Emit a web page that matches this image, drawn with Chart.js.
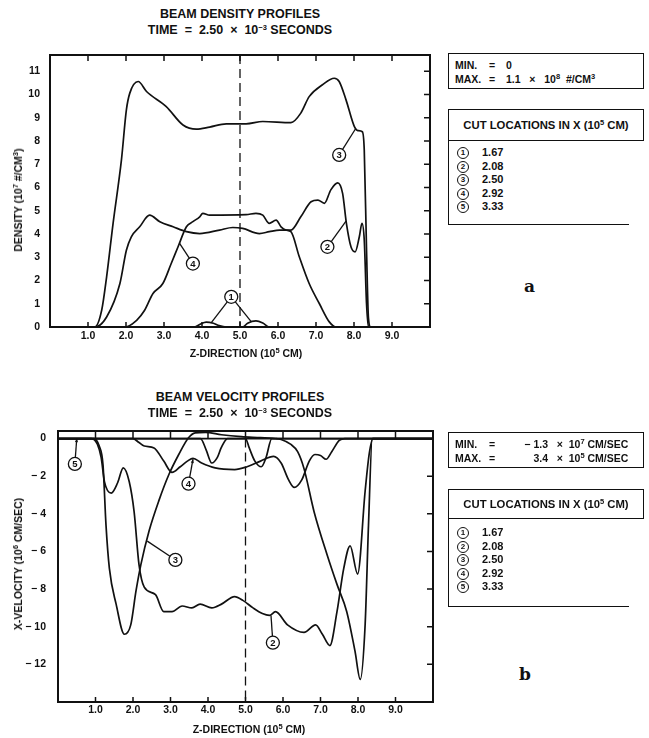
<!DOCTYPE html>
<html>
<head>
<meta charset="utf-8">
<script src="https://cdn.jsdelivr.net/npm/chart.js@4/dist/chart.umd.min.js"></script>
<style>
  body { margin: 0; background: #fff; width: 649px; height: 738px; position: relative; overflow: hidden;
         font-family: "Liberation Sans", Arial, sans-serif; font-weight: bold; color: #111; }
  .hdr { position: absolute; left: 0; width: 480px; text-align: center; font-size: 12.5px; white-space: pre; }
  .axt { position: absolute; font-size: 10.5px; white-space: pre; transform: translate(-50%, -50%); }
  .axt.rot { transform: translate(-50%, -50%) rotate(-90deg); }
  canvas { position: absolute; left: 0; }
  .box { position: absolute; left: 448px; width: 194px; border: 1.5px solid #111; font-size: 10.5px; }
  .row { display: flex; height: 14px; line-height: 14px; white-space: pre; padding-left: 6px; }
  .row span:first-child { width: 34px; }
  .row span.eq { width: 17px; }
  .cuthead { position: absolute; left: 448px; width: 194px; border: 1.5px solid #111; font-size: 11.3px; text-align: center; }
  .cutlist { position: absolute; left: 448px; width: 180px; border-left: 1.5px solid #111; border-bottom: 1.5px solid #111; font-size: 11px; }
  .cutlist div { height: 13.5px; line-height: 13.5px; padding-left: 8px; }
  .circ { display: inline-block; width: 10px; height: 10px; border: 1.2px solid #111; border-radius: 50%; font-size: 8px;
          line-height: 10px; text-align: center; vertical-align: middle; margin-right: 13px; }
  sup { font-size: 7.5px; vertical-align: 4px; line-height: 0; }
  .tag { position: absolute; font-family: "DejaVu Serif", serif; font-weight: bold; font-size: 17px; }
</style>
</head>
<body>
<div class="hdr" style="top:7px">BEAM DENSITY PROFILES</div>
<div class="hdr" style="top:23px">TIME  =  2.50  ×  10<sup>−3</sup> SECONDS</div>
<canvas id="dens" width="440" height="360" style="top:0"></canvas>
<div class="axt" style="left:246px;top:353px">Z-DIRECTION (10<sup>5</sup> CM)</div>
<div class="axt rot" style="left:18px;top:200px">DENSITY (10<sup>7</sup> #/CM<sup>3</sup>)</div>

<div class="box" style="top:53px;height:30px;padding-top:4px">
  <div class="row"><span>MIN.</span><span class="eq">=</span><span>0</span></div>
  <div class="row"><span>MAX.</span><span class="eq">=</span><span>1.1   ×   10<sup>8</sup>  #/CM<sup>3</sup></span></div>
</div>
<div class="cuthead" style="top:109px;height:30px;line-height:30px">CUT LOCATIONS IN X (10<sup>5</sup> CM)</div>
<div class="cutlist" style="top:140px;height:78px;padding-top:6px">
  <div><span class="circ">1</span>1.67</div>
  <div><span class="circ">2</span>2.08</div>
  <div><span class="circ">3</span>2.50</div>
  <div><span class="circ">4</span>2.92</div>
  <div><span class="circ">5</span>3.33</div>
</div>
<div class="tag" style="left:524px;top:276px">a</div>

<div class="hdr" style="top:390px">BEAM VELOCITY PROFILES</div>
<div class="hdr" style="top:406px">TIME  =  2.50  ×  10<sup>−3</sup> SECONDS</div>
<canvas id="vel" width="445" height="373" style="top:365px"></canvas>
<div class="axt" style="left:249px;top:729px">Z-DIRECTION (10<sup>5</sup> CM)</div>
<div class="axt rot" style="left:18px;top:564px">X-VELOCITY (10<sup>6</sup> CM/SEC)</div>

<div class="box" style="top:432px;height:30px;padding-top:4px">
  <div class="row"><span>MIN.</span><span class="eq">=</span><span style="width:42px;text-align:right">− 1.3</span><span>   ×  10<sup>7</sup> CM/SEC</span></div>
  <div class="row"><span>MAX.</span><span class="eq">=</span><span style="width:42px;text-align:right">3.4</span><span>   ×  10<sup>5</sup> CM/SEC</span></div>
</div>
<div class="cuthead" style="top:489px;height:28px;line-height:28px">CUT LOCATIONS IN X (10<sup>5</sup> CM)</div>
<div class="cutlist" style="top:518px;height:80px;padding-top:8px">
  <div><span class="circ">1</span>1.67</div>
  <div><span class="circ">2</span>2.08</div>
  <div><span class="circ">3</span>2.50</div>
  <div><span class="circ">4</span>2.92</div>
  <div><span class="circ">5</span>3.33</div>
</div>
<div class="tag" style="left:519px;top:664px">b</div>

<script>
// --- data (z in 10^5 cm) ---
const xTickVals = [1, 2, 3, 4, 5, 6, 7, 8, 9];

// density profiles (10^7 #/cm^3)
const dens1Z = [0, 3.8, 3.95, 4.11, 4.3, 4.45, 4.64, 5.07, 5.2, 5.42, 5.6, 5.77, 10];
const dens1V = [0, 0, 0.12, 0.21, 0.16, 0.06, 0, 0, 0.16, 0.26, 0.17, 0, 0];
const dens2Z = [0, 1.18, 1.49, 1.84, 2.01, 2.14, 2.36, 2.62, 2.89, 3.24, 3.59, 3.94, 4.46, 4.81, 5.07, 5.51, 5.77, 6.04, 6.34, 6.6, 6.87, 7.05, 7.22, 7.39, 7.57, 7.7, 7.8, 7.92, 8.03, 8.14, 8.21, 8.27, 8.33, 8.38, 10];
const dens2V = [0, 0, 0.43, 1.87, 3.3, 3.88, 4.31, 4.81, 4.53, 4.31, 4.1, 4.02, 4.17, 4.28, 4.24, 4.02, 4.1, 4.17, 4.17, 4.74, 5.39, 5.46, 5.32, 5.9, 6.2, 5.75, 4.46, 3.45, 3.23, 3.88, 4.46, 3.74, 1.0, 0, 0];
const dens3Z = [0, 1.18, 1.36, 1.49, 1.66, 1.88, 2.01, 2.1, 2.32, 2.54, 3.06, 3.5, 3.85, 4.2, 4.64, 5.16, 5.6, 6.34, 6.6, 6.82, 7.17, 7.48, 7.61, 7.79, 8.01, 8.1, 8.22, 8.27, 8.33, 8.38, 8.44, 10];
const dens3V = [0, 0, 0.72, 2.16, 4.46, 7.19, 9.34, 10.06, 10.56, 10.13, 9.48, 8.69, 8.51, 8.6, 8.74, 8.74, 8.84, 8.79, 9.2, 9.91, 10.42, 10.7, 10.56, 9.77, 8.62, 8.45, 8.4, 7.6, 3.3, 0.4, 0, 0];
const dens4Z = [0, 1.97, 2.28, 2.49, 2.71, 2.97, 3.19, 3.37, 3.59, 3.76, 3.94, 4.02, 4.2, 5.16, 5.42, 5.6, 5.77, 5.95, 6.08, 6.21, 6.34, 6.56, 6.82, 7.09, 7.35, 7.52, 10];
const dens4V = [0, 0, 0.29, 0.72, 1.44, 1.87, 2.73, 3.45, 4.31, 4.53, 4.74, 4.89, 4.81, 4.83, 4.89, 4.81, 4.46, 4.6, 4.31, 4.17, 4.1, 3.02, 1.87, 1.0, 0.22, 0, 0];
const dens5Z = [0, 10];
const dens5V = [0, 0];

// velocity profiles (10^6 cm/sec)
const vel1Z = [0, 3.8, 3.95, 4.1, 4.25, 4.35, 4.52, 5.0, 5.1, 5.25, 5.42, 5.55, 5.7, 10];
const vel1V = [0, 0, -0.6, -1.3, -1.0, -0.5, 0, 0, -0.5, -1.2, -1.5, -1.0, 0, 0];
const vel2Z = [0, 0.89, 1.05, 1.15, 1.24, 1.42, 1.59, 1.74, 1.9, 2.03, 2.16, 2.3, 2.6, 2.82, 3.04, 3.31, 3.57, 3.79, 4.1, 4.36, 4.71, 4.93, 5.2, 5.45, 5.64, 5.8, 6.12, 6.56, 6.87, 7.05, 7.25, 7.44, 7.62, 7.79, 7.99, 8.19, 8.3, 8.4, 10];
const vel2V = [0, 0, -0.3, -1.0, -2.3, -2.9, -2.35, -1.56, -2.3, -3.9, -6.7, -7.9, -8.3, -9.2, -9.2, -8.9, -9.0, -8.8, -9.0, -8.8, -8.4, -8.6, -9.0, -9.3, -9.4, -9.2, -9.9, -10.3, -9.9, -10.4, -11.0, -9.2, -6.9, -5.7, -7.2, -2.8, -0.8, 0, 0];
const vel3Z = [0, 0.95, 1.1, 1.2, 1.28, 1.37, 1.55, 1.77, 1.94, 2.08, 2.21, 2.43, 2.69, 2.96, 3.22, 3.48, 3.66, 3.93, 4.36, 4.89, 5.4, 5.8, 5.95, 6.2, 6.39, 6.56, 6.83, 7.18, 7.44, 7.7, 7.92, 8.06, 8.19, 8.28, 8.38, 10];
const vel3V = [0, 0, -0.4, -1.4, -4.6, -6.9, -8.8, -10.4, -9.9, -8.1, -6.7, -4.9, -3.3, -1.9, -0.85, 0.04, 0.3, 0.33, 0.2, 0.1, 0.05, 0, -0.05, -0.3, -0.7, -1.6, -3.9, -6.2, -7.75, -9.2, -11.3, -12.8, -9.9, -4.6, 0, 0];
const vel4Z = [0, 2.0, 2.15, 2.3, 2.56, 2.82, 3.04, 3.26, 3.45, 3.6, 3.83, 4.19, 4.71, 5.04, 5.4, 5.75, 5.95, 6.15, 6.3, 6.5, 6.7, 6.85, 7.0, 7.15, 7.3, 7.5, 7.65, 10];
const vel4V = [0, 0, -0.2, -0.4, -0.5, -1.2, -1.8, -1.5, -1.2, -1.05, -1.3, -1.56, -1.65, -1.5, -1.2, -0.95, -1.3, -2.2, -2.6, -2.2, -1.2, -0.85, -0.9, -1.1, -0.7, -0.1, 0, 0];
const vel5Z = [0, 10];
const vel5V = [0, 0];

// curve callouts: number, label position, points the leader goes to
const densCallouts = [
  { n: '1', at: [4.77, 1.3], to: [[4.25, 0.2], [5.3, 0.22]] },
  { n: '2', at: [7.3, 3.45], to: [[7.79, 4.55]] },
  { n: '3', at: [7.61, 7.4], to: [[8.05, 8.55]] },
  { n: '4', at: [3.76, 2.73], to: [[3.41, 3.6]] }
];
const velCallouts = [
  { n: '5', at: [0.45, -1.35], to: [[0.5, 0]], arrow: true },
  { n: '4', at: [3.48, -2.4], to: [[3.6, -1.1]], arrow: true },
  { n: '3', at: [3.13, -6.45], to: [[2.38, -5.45]] },
  { n: '2', at: [5.73, -10.85], to: [[5.68, -9.4]] }
];

const ink = '#111';
const tickFont = { family: 'Liberation Sans', weight: 'bold', size: 10.5 };

function pts(zs, vs) { return zs.map((z, i) => ({ x: z, y: vs[i] })); }
function ds(zs, vs) {
  return { data: pts(zs, vs), borderColor: ink, borderWidth: 1.7, pointRadius: 0,
           cubicInterpolationMode: 'monotone', fill: false };
}

// frame, inward ticks, dashed centre line and circled curve labels
const framePlugin = {
  id: 'frame',
  afterDatasetsDraw(chart, args, o) {
    const { ctx, chartArea: a, scales: { x, y } } = chart;
    ctx.save();
    ctx.strokeStyle = ink;
    ctx.fillStyle = ink;

    ctx.setLineDash([9, 5]);
    ctx.lineWidth = 1.3;
    const xm = x.getPixelForValue(o.midLine);
    ctx.beginPath();
    ctx.moveTo(xm, o.dashFrom != null ? y.getPixelForValue(o.dashFrom) : a.top);
    ctx.lineTo(xm, a.bottom);
    ctx.stroke();
    ctx.setLineDash([]);

    ctx.lineWidth = 1.5;
    ctx.beginPath();
    xTickVals.forEach(v => {
      const px = x.getPixelForValue(v);
      const topEnd = o.topTickTo != null ? y.getPixelForValue(o.topTickTo) : a.top + 6;
      ctx.moveTo(px, a.top); ctx.lineTo(px, topEnd);
      ctx.moveTo(px, a.bottom); ctx.lineTo(px, a.bottom - 5);
    });
    y.ticks.forEach(t => {
      if (t.value <= y.min || t.value >= o.rightTickMax) return;
      const py = y.getPixelForValue(t.value);
      ctx.moveTo(a.right, py); ctx.lineTo(a.right - 6, py);
    });
    ctx.stroke();

    ctx.lineWidth = 2;
    ctx.strokeRect(a.left, a.top, a.right - a.left, a.bottom - a.top);

    const r = 6.5;
    ctx.font = 'bold 9.5px "Liberation Sans"';
    ctx.textAlign = 'center';
    ctx.textBaseline = 'middle';
    o.callouts.forEach(c => {
      const cx = x.getPixelForValue(c.at[0]), cy = y.getPixelForValue(c.at[1]);
      ctx.lineWidth = 1.3;
      c.to.forEach(t => {
        const tx = x.getPixelForValue(t[0]), ty = y.getPixelForValue(t[1]);
        const ang = Math.atan2(ty - cy, tx - cx);
        ctx.beginPath();
        ctx.moveTo(cx + r * Math.cos(ang), cy + r * Math.sin(ang));
        ctx.lineTo(tx, ty);
        ctx.stroke();
        if (c.arrow) {
          ctx.beginPath();
          ctx.moveTo(tx, ty);
          ctx.lineTo(tx - 4 * Math.cos(ang - 0.4), ty - 4 * Math.sin(ang - 0.4));
          ctx.lineTo(tx - 4 * Math.cos(ang + 0.4), ty - 4 * Math.sin(ang + 0.4));
          ctx.closePath();
          ctx.fill();
        }
      });
      ctx.beginPath();
      ctx.arc(cx, cy, r, 0, Math.PI * 2);
      ctx.fillStyle = '#fff';
      ctx.fill();
      ctx.stroke();
      ctx.fillStyle = ink;
      ctx.fillText(c.n, cx, cy + 0.5);
    });
    ctx.restore();
  }
};

function makeChart(id, cfg) {
  return new Chart(document.getElementById(id), {
    type: 'line',
    data: { datasets: cfg.datasets },
    options: {
      responsive: false,
      animation: false,
      devicePixelRatio: 1,
      layout: { padding: { top: cfg.padTop, right: cfg.padRight, left: 0, bottom: 0 } },
      plugins: { legend: { display: false }, tooltip: { enabled: false }, frame: cfg.frame },
      scales: {
        x: {
          type: 'linear', min: 0, max: 10,
          afterBuildTicks: s => { s.ticks = xTickVals.map(v => ({ value: v })); },
          afterFit: s => { s.height = cfg.xHeight; },
          grid: { display: false, drawTicks: false }, border: { display: false },
          ticks: { font: tickFont, color: ink, padding: cfg.xPad, maxRotation: 0, callback: v => v.toFixed(1) }
        },
        y: {
          min: cfg.yMin, max: cfg.yMax,
          afterFit: s => { s.width = cfg.yWidth; },
          grid: { display: false, drawTicks: false }, border: { display: false },
          ticks: { stepSize: cfg.yStep, includeBounds: false, font: tickFont, color: ink, padding: cfg.yPad,
                   callback: cfg.yLabel }
        }
      }
    },
    plugins: [framePlugin]
  });
}

makeChart('dens', {
  datasets: [ds(dens5Z, dens5V), ds(dens1Z, dens1V), ds(dens2Z, dens2V), ds(dens3Z, dens3V), ds(dens4Z, dens4V)],
  padTop: 55, padRight: 10, xHeight: 33, yWidth: 50, xPad: 3, yPad: 10,
  yMin: 0, yMax: 11.7, yStep: 1,
  yLabel: v => String(v),
  frame: { midLine: 5, rightTickMax: 11.5, callouts: densCallouts }
});

makeChart('vel', {
  datasets: [ds(vel5Z, vel5V), ds(vel1Z, vel1V), ds(vel2Z, vel2V), ds(vel3Z, vel3V), ds(vel4Z, vel4V)],
  padTop: 66, padRight: 12, xHeight: 36, yWidth: 58, xPad: 2, yPad: 12,
  yMin: -14, yMax: 0.4, yStep: 2,
  yLabel: v => v === -14 ? '' : (v < 0 ? '− ' + Math.abs(v) : '0'),
  frame: { midLine: 5, dashFrom: 0, topTickTo: 0, rightTickMax: 0, callouts: velCallouts }
});
</script>
</body>
</html>
